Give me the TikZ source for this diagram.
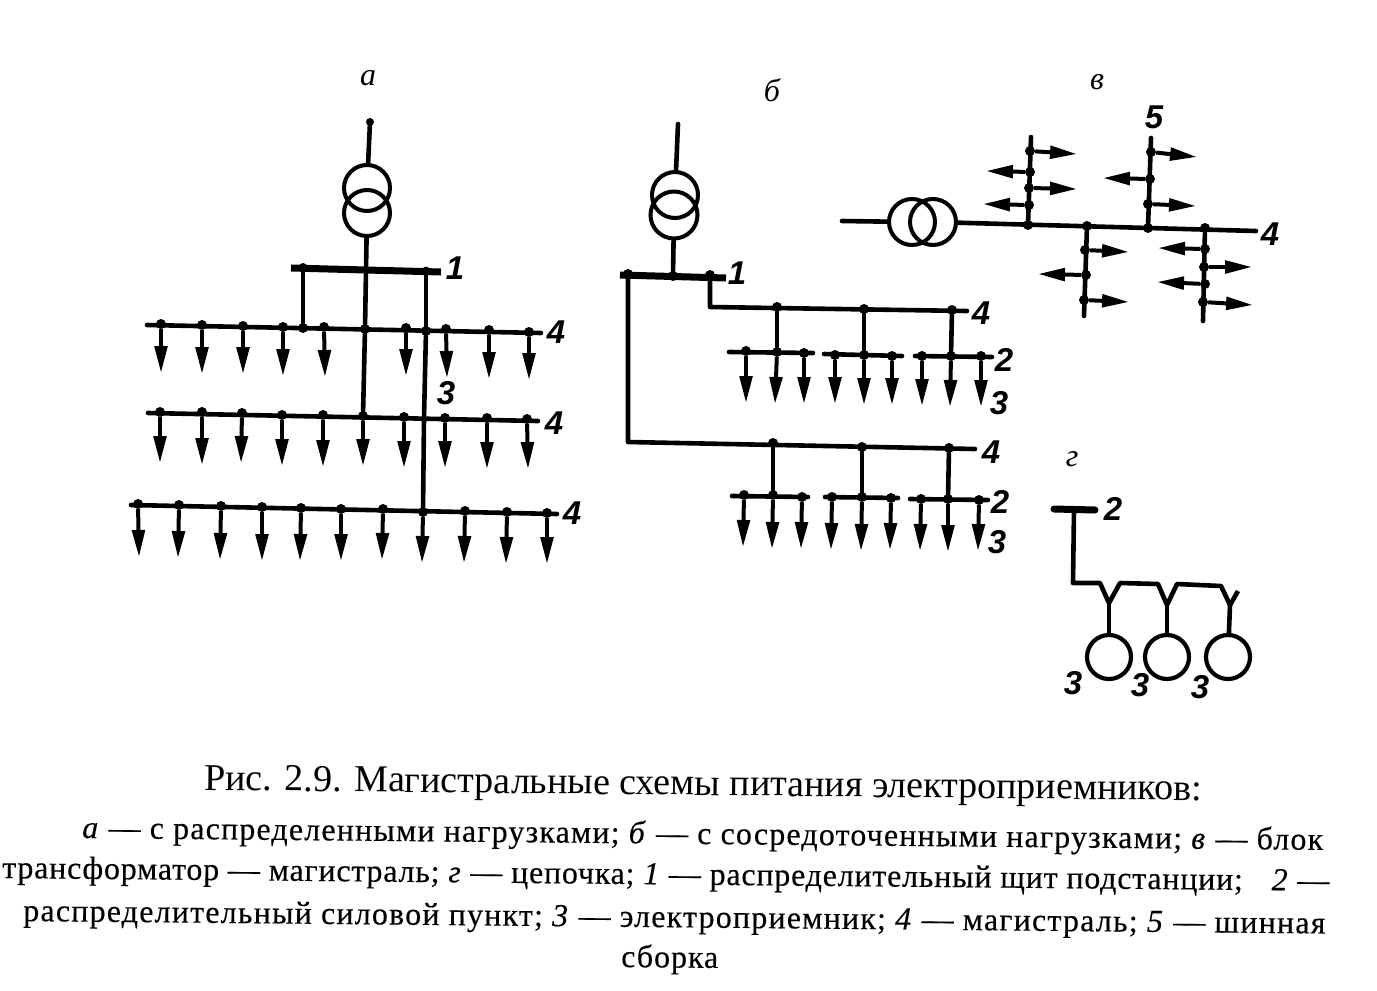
\documentclass[tikz,border=0pt]{standalone}
\usepackage{fontspec}
\setmainfont{Liberation Serif}
\newfontfamily\numfont{Liberation Sans}
\usetikzlibrary{arrows.meta}
\tikzset{
  dot/.style={circle,fill=black,inner sep=0pt,minimum size=10pt},
  wire/.style={line width=4.6pt,line cap=round,line join=round},
  busbar/.style={line width=7pt,line cap=round},
  loadarrow/.style={line width=4pt,-{Triangle[length=27pt,width=12.5pt]}},
  coil/.style={circle,draw=black,line width=4pt,inner sep=0pt,minimum size=46pt},
  rcv/.style={circle,draw=black,line width=4.2pt,inner sep=0pt,minimum size=44pt},
  num/.style={inner sep=0pt,font=\numfont\bfseries\itshape\fontsize{33}{33}\selectfont},
  panel/.style={inner sep=0pt,font=\itshape\fontsize{32}{32}\selectfont},
  capt/.style={anchor=base west,inner sep=0pt,rotate=-0.6,font=\fontsize{38}{38}\selectfont},
  body/.style={anchor=base west,inner sep=0pt,rotate=-0.55,font=\fontsize{32}{32}\selectfont},
}
\newcommand{\loadat}[5]{\node[dot] (#1) at (#2,#3) {}; \coordinate (#1t) at (#4,#5); \draw[loadarrow] (#1) -- (#1t);}
\begin{document}
\begin{tikzpicture}[x=1pt,y=-1pt]
\useasboundingbox (0,0) rectangle (1377,991);
%% ---- panel a
\node[panel] (la) at (368,78) {а};
\node[dot,minimum size=8pt] (atopd) at (370,122) {};
\node[coil] (atr1) at (367,188) {};
\node[coil] (atr2) at (367,213) {};
\node[dot,minimum size=7pt] (abus2) at (366,270) {};
\node[dot,minimum size=8pt] (abus1) at (303,267) {};
\node[dot,minimum size=7pt] (abus3) at (426,270) {};
\coordinate (abl) at (291,268); \coordinate (abr) at (441,272);
\draw[busbar,line cap=butt] (abl) -- (abr);
\draw[wire] (atopd) -- (atr1);
\draw[wire] (atr2) -- (abus2);
\coordinate (m1l) at (147,325); \coordinate (m1r) at (541,333);
\coordinate (m2l) at (148,413); \coordinate (m2r) at (538,421);
\coordinate (m3l) at (131,505); \coordinate (m3r) at (557,514);
\draw[wire] (m1l) -- (m1r);
\draw[wire] (m2l) -- (m2r);
\draw[wire] (m3l) -- (m3r);
\foreach \n/\x/\y/\ex/\ey in {1/161/324/161/373,2/202/325/202/374,3/243/326/243/374,4/283/327/283/376,5/324/327/325/377,6/406/328/406/376,7/446/329/447/378,8/489/330/489/379,9/529/332/529/380}
  {\loadat{mA\n}{\x}{\y}{\ex}{\ey}}
\foreach \n/\x/\y/\ex/\ey in {1/160/412/160/463,2/202/412/202/465,3/242/413/241/463,4/282/415/282/466,5/323/415/323/467,6/363/416/363/466,7/404/417/404/468,8/445/418/445/468,9/487/418/487/469,10/527/419/528/469}
  {\loadat{mB\n}{\x}{\y}{\ex}{\ey}}
\foreach \n/\x/\y/\ex/\ey in {1/138/504/139/557,2/179/505/178/558,3/221/506/220/560,4/262/507/262/561,5/301/508/300/561,6/341/509/341/561,7/383/509/382/560,8/423/512/422/563,9/465/511/464/563,10/507/512/506/564,11/547/513/547/564}
  {\loadat{mC\n}{\x}{\y}{\ex}{\ey}}
\node[dot] (aj1) at (303,328) {};
\node[dot] (aj2) at (365,329) {};
\node[dot] (aj3) at (426,331) {};
\node[dot,minimum size=4pt] (aj4) at (424,418) {};
\draw[wire] (abus1) -- (aj1);
\draw[wire] (abus2) -- (aj2);
\draw[wire] (aj2) -- (mB6);
\draw[wire] (abus3) -- (aj3);
\draw[wire] (aj3) -- (aj4);
\draw[wire] (aj4) -- (mC8);
\node[num] (a1) at (455,268) {1};
\node[num] (a41) at (556,332) {4};
\node[num] (a3) at (446,393) {3};
\node[num] (a42) at (554,423) {4};
\node[num] (a43) at (572,513) {4};
%% ---- panel b
\node[panel] (lb) at (772,90) {б};
\coordinate (btop) at (678,124);
\node[coil,minimum size=46pt] (bc1) at (675,195) {};
\node[coil,minimum size=47pt] (bc2) at (674,215) {};
\coordinate (bbl) at (620,275); \coordinate (bbr) at (726,278);
\draw[busbar,line cap=butt] (bbl) -- (bbr);
\node[dot] (bb1) at (628,274) {};
\node[dot] (bb2) at (673,276) {};
\node[dot] (bb3) at (710,275) {};
\draw[wire] (btop) -- (bc1);
\draw[wire] (bc2) -- (bb2);
\coordinate (bm1c) at (710,307); \coordinate (bm1r) at (967,311);
\coordinate (bm2c) at (628,442); \coordinate (bm2r) at (975,449);
\draw[wire] (bb3) -- (bm1c) -- (bm1r);
\draw[wire] (bb1) -- (bm2c) -- (bm2r);
\foreach \n/\sx/\sy/\lx/\ly/\ax/\ay/\bx/\by/\cx/\cy/\tax/\tay/\tbx/\tby/\tcx/\tcy/\mx/\my in {
 1/729/352/813/353/746/351/777/352/804/353/746/403/775/404/804/404/777/307,
 2/824/354/902/356/835/355/864/355/892/356/835/404/864/405/892/405/864/309,
 3/915/356/992/357/922/356/951/356/981/356/922/406/950/407/981/407/952/310,
 4/732/496/808/497/744/495/773/495/802/497/743/547/772/549/801/549/773/443,
 5/825/497/898/498/832/497/862/497/891/498/831/550/861/551/890/550/862/447,
 6/910/499/988/500/921/499/948/499/979/500/920/551/948/552/978/551/949/448}
 {
  \coordinate (bsl\n) at (\sx,\sy); \coordinate (bsr\n) at (\lx,\ly);
  \draw[wire] (bsl\n) -- (bsr\n);
  \loadat{bsa\n}{\ax}{\ay}{\tax}{\tay}
  \loadat{bsb\n}{\bx}{\by}{\tbx}{\tby}
  \loadat{bsc\n}{\cx}{\cy}{\tcx}{\tcy}
  \node[dot] (bmd\n) at (\mx,\my) {};
  \draw[wire] (bmd\n) -- (bsb\n);
 }
\node[num] (b1) at (737,273) {1};
\node[num] (b41) at (981,313) {4};
\node[num] (b21) at (1004,360) {2};
\node[num] (b31) at (999,403) {3};
\node[num] (b42) at (991,452) {4};
\node[num] (b22) at (1000,502) {2};
\node[num] (b32) at (997,542) {3};
%% ---- panel v
\node[panel] (lv) at (1097,82) {в};
\coordinate (vin) at (842,221);
\node[coil] (vc1) at (912,222) {};
\node[coil] (vc2) at (933,222) {};
\coordinate (vr) at (1256,231);
\draw[wire] (vin) -- (vc1);
\draw[wire] (vc2) -- (vr);
\node[dot] (vj1) at (1028,225) {};
\node[dot] (vj2) at (1087,226) {};
\node[dot] (vj3) at (1148,228) {};
\node[dot] (vj4) at (1205,228) {};
\coordinate (vt1) at (1031,137); \coordinate (vt2) at (1151,138);
\coordinate (vt3) at (1084,316); \coordinate (vt4) at (1203,321);
\draw[wire] (vj1) -- (vt1);
\draw[wire] (vj3) -- (vt2);
\draw[wire] (vj2) -- (vt3);
\draw[wire] (vj4) -- (vt4);
\foreach \n/\x/\y/\ex/\ey in {
 1/1030/151/1077/154,2/1030/172/986/171,3/1029/188/1077/189,4/1029/205/983/204,
 5/1151/152/1197/157,6/1150/179/1103/178,7/1148/204/1196/206,
 8/1085/250/1129/252,9/1086/275/1038/274,10/1084/300/1129/302,
 11/1205/249/1158/248,12/1204/267/1252/267,13/1205/284/1157/282,14/1203/302/1253/305}
  {\loadat{va\n}{\x}{\y}{\ex}{\ey}}
\node[num] (v5) at (1154,117) {5};
\node[num] (v4) at (1270,234) {4};
%% ---- panel g
\node[panel] (lg) at (1072,459) {г};
\coordinate (gbl) at (1054,509); \coordinate (gbr) at (1095,510);
\coordinate (gbm) at (1074,510);
\draw[busbar] (gbl) -- (gbr);
\coordinate (gy1) at (1109,603); \coordinate (gy2) at (1167,605); \coordinate (gy3) at (1230,605);
\coordinate (gc0) at (1073,583);
\coordinate (g1a) at (1100,583); \coordinate (g1b) at (1120,583);
\coordinate (g2a) at (1158,584); \coordinate (g2b) at (1177,584);
\coordinate (g3a) at (1221,586); \coordinate (g3b) at (1238,591);
\draw[wire,line cap=butt,miter limit=10] (gbm) -- (gc0) -- (g1a) -- (gy1) -- (g1b) -- (g2a) -- (gy2) -- (g2b) -- (g3a) -- (gy3) -- (g3b);
\node[rcv] (gr1) at (1109,657) {};
\node[rcv] (gr2) at (1167,657) {};
\node[rcv] (gr3) at (1228,657) {};
\draw[wire] (gy1) -- (gr1);
\draw[wire] (gy2) -- (gr2);
\draw[wire] (gy3) -- (gr3);
\node[num] (g2) at (1113,509) {2};
\node[num] (g31) at (1073,683) {3};
\node[num] (g32) at (1140,685) {3};
\node[num] (g33) at (1200,687) {3};
%% ---- caption
\node[capt] (c1) at (204,790) {Рис. 2.9. Магистральные схемы питания электроприемников:};
\node[body] (c2) at (82,838) {\addfontfeature{LetterSpace=3.65,FakeBold=0.3}\textit{а} — с распределенными нагрузками; \textit{б} — с сосредоточенными нагрузками; \textit{в} — блок};
\node[body] (c3) at (2,878) {\addfontfeature{LetterSpace=2.45,FakeBold=0.3}трансформатор — магистраль; \textit{г} — цепочка; \textit{1} — распределительный щит подстанции;\hspace{0.9em}\textit{2} —};
\node[body] (c4) at (23,921) {\addfontfeature{LetterSpace=3.75,FakeBold=0.3}распределительный силовой пункт; \textit{3} — электроприемник; \textit{4} — магистраль; \textit{5} — шинная};
\node[body] (c5) at (621,967) {\addfontfeature{LetterSpace=3,FakeBold=0.3}сборка};
\end{tikzpicture}
\end{document}
